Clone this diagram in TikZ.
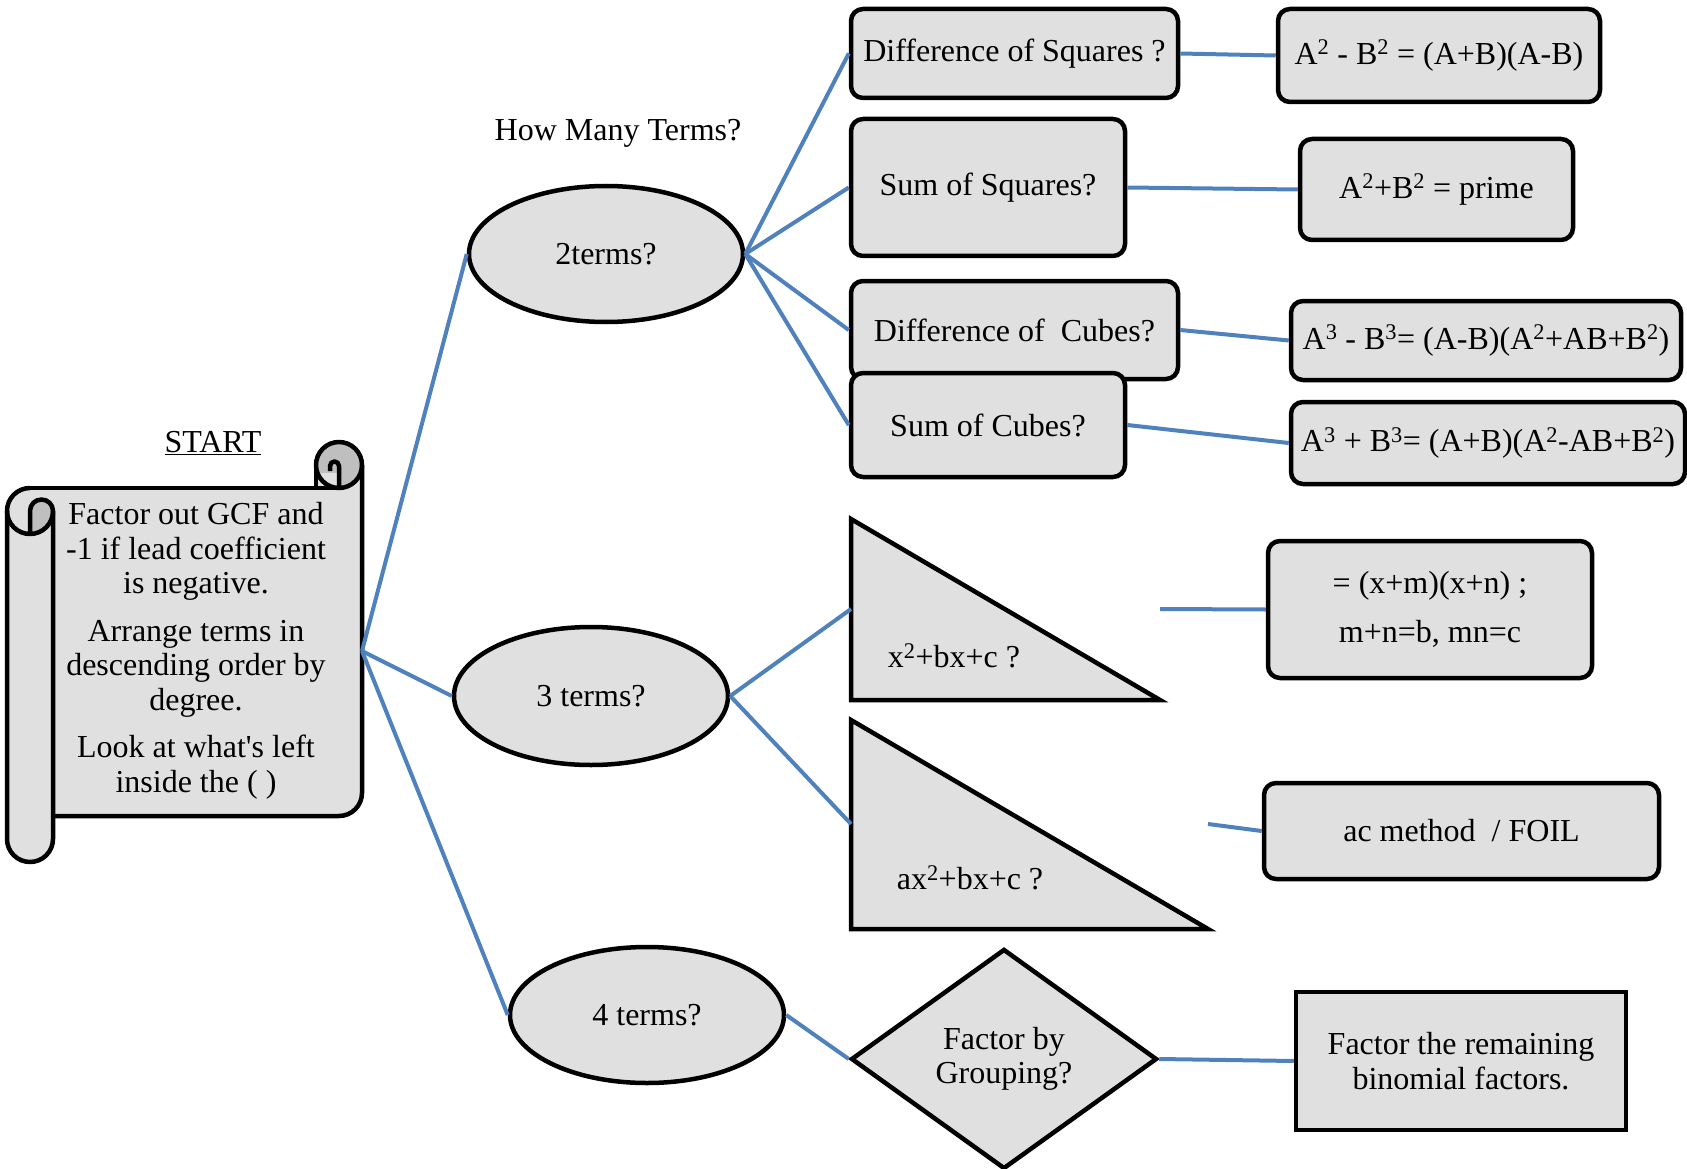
\documentclass[tikz,border=0pt]{standalone}
\usepackage{fontspec}
\setmainfont{Liberation Serif}
\usetikzlibrary{shapes.geometric}
\definecolor{boxgrey}{HTML}{E0E0E0}
\definecolor{curlgrey}{HTML}{BFBFBF}
\definecolor{linkblue}{HTML}{4F81BD}
\tikzset{
	every node/.style={font=\fontsize{32}{34.5}\selectfont},
	qbox/.style={draw, line width=4.5pt, fill=boxgrey, rounded corners=12pt, inner sep=0pt, align=center},
	oval/.style={ellipse, draw, line width=4.5pt, fill=boxgrey, inner sep=0pt, minimum width=274pt, minimum height=136pt},
	link/.style={draw=linkblue, line width=4pt},
	outline/.style={line width=4.5pt, line join=round}
}

\begin{document}
\begin{tikzpicture}[x=1pt, y=-1pt]
			%%%%% START %%%%%
			\useasboundingbox (0,0) rectangle (1687,1169);
			
			% scroll
			\fill[boxgrey] (30,488) -- (339,488) arc[start angle=90, end angle=0, radius=23] -- (362,793)
				arc[start angle=0, end angle=90, radius=23] -- (53,816) -- (53,839)
				arc[start angle=0, end angle=180, radius=23] -- (7,511)
				arc[start angle=180, end angle=270, radius=23] -- cycle;
			\fill[curlgrey] (339,465) circle (23);
			\fill[boxgrey] (316,473) rectangle (339,488);
			\fill[curlgrey] (30,534) arc[start angle=90, end angle=0, radius=23]
				arc[start angle=0, end angle=-180, radius=11.5] -- cycle;
			\draw[outline] (30,488) -- (339,488);
			\draw[outline] (339,465) circle (23);
			\draw[outline] (316,465) -- (316,488);
			\draw[outline] (362,465) -- (362,793) arc[start angle=0, end angle=90, radius=23] -- (53,816);
			\draw[outline] (53,511) -- (53,839) arc[start angle=0, end angle=180, radius=23] -- (7,511)
				arc[start angle=180, end angle=270, radius=23];
			\draw[outline] (30,534) -- (30,511) arc[start angle=180, end angle=360, radius=11.5]
				arc[start angle=0, end angle=180, radius=23];
			\draw[outline] (339,488) -- (339,466) arc[start angle=0, end angle=-180, radius=4.5] -- (330,471);
			
			\node (start) at (213,443) {\underline{START}};
			\node[align=center] (gcf) at (196,651) {Factor out GCF and\\-1 if lead coefficient\\is negative.\\[13pt]Arrange terms in\\descending order by\\degree.\\[13pt]Look at what\textquotesingle s left\\inside the ( )};
			\coordinate (scrollout) at (362,651);
			
			% how many terms
			\node (howmany) at (618,133) {How Many Terms?};
			\node[oval] (twoterms) at (606,254) {2terms?};
			\node[oval, minimum height=138pt] (threeterms) at (591,696) {3 terms?};
			\node[oval] (fourterms) at (647,1015) {4 terms?};
			
			% two terms
			\node[qbox, minimum width=327pt, minimum height=89pt] (diffsq) at (1014.5,53.5) {Difference of Squares ?};
			\node[qbox, minimum width=322pt, minimum height=93pt] (sqfactor) at (1439,55.5) {A\textsuperscript{2} - B\textsuperscript{2} = (A+B)(A-B)};
			\node[qbox, minimum width=274pt, minimum height=137pt] (sumsq) at (988,187.5) {Sum of Squares?};
			\node[qbox, minimum width=273pt, minimum height=101pt] (sqprime) at (1436.5,189.5) {A\textsuperscript{2}+B\textsuperscript{2} = prime};
			\node[qbox, minimum width=327pt, minimum height=98pt] (diffcube) at (1014.5,330) {Difference of\ \ Cubes?};
			\node[qbox, minimum width=390pt, minimum height=79pt] (cubeminus) at (1486,340.5) {A\textsuperscript{3} - B\textsuperscript{3}= (A-B)(A\textsuperscript{2}+AB+B\textsuperscript{2})};
			\node[qbox, minimum width=274pt, minimum height=104pt] (sumcube) at (988,425) {Sum of Cubes?};
			\node[qbox, minimum width=394pt, minimum height=82pt] (cubeplus) at (1488,443) {A\textsuperscript{3} + B\textsuperscript{3}= (A+B)(A\textsuperscript{2}-AB+B\textsuperscript{2})};
			
			% three terms
			\draw[line width=4.5pt, fill=boxgrey] (851,519) -- (851,700) -- (1160,700) -- cycle;
			\coordinate (triAin) at (851,609);
			\coordinate (triAout) at (1160,609);
			\node (quadA) at (954,656) {x\textsuperscript{2}+bx+c ?};
			\draw[line width=4.5pt, fill=boxgrey] (851,720) -- (851,929) -- (1208,929) -- cycle;
			\coordinate (triBin) at (851,824);
			\coordinate (triBout) at (1208,824);
			\node (quadB) at (970,878) {ax\textsuperscript{2}+bx+c ?};
			\node[qbox, minimum width=324pt, minimum height=137pt] (mnrule) at (1430,609.5) {= (x+m)(x+n) ;\\[14pt]m+n=b, mn=c};
			\node[qbox, minimum width=395pt, minimum height=96pt] (acrule) at (1461.5,831) {ac method\ \ / FOIL};
			
			% four terms
			\node[diamond, draw, line width=4.5pt, fill=boxgrey, inner sep=0pt, align=center, minimum width=306pt, minimum height=220pt] (grouping) at (1004,1059) {Factor by\\Grouping?};
			\node[draw, line width=4.5pt, fill=boxgrey, inner sep=0pt, align=center, minimum width=330pt, minimum height=138pt] (remain) at (1461,1061) {Factor the remaining\\binomial factors.};
			
			% connectors
			\draw[link] (scrollout) -- (twoterms.west);
			\draw[link] (scrollout) -- (threeterms.west);
			\draw[link] (scrollout) -- (fourterms.west);
			\draw[link] (twoterms.east) -- (diffsq.west);
			\draw[link] (twoterms.east) -- (sumsq.west);
			\draw[link] (twoterms.east) -- (diffcube.west);
			\draw[link] (twoterms.east) -- (sumcube.west);
			\draw[link] (diffsq.east) -- (sqfactor.west);
			\draw[link] (sumsq.east) -- (sqprime.west);
			\draw[link] (diffcube.east) -- (cubeminus.west);
			\draw[link] (sumcube.east) -- (cubeplus.west);
			\draw[link] (threeterms.east) -- (triAin);
			\draw[link] (threeterms.east) -- (triBin);
			\draw[link] (triAout) -- (mnrule.west);
			\draw[link] (triBout) -- (acrule.west);
			\draw[link] (fourterms.east) -- (grouping.west);
			\draw[link] (grouping.east) -- (remain.west);
			
			%%%%% END %%%%%
\end{tikzpicture}
\end{document}
